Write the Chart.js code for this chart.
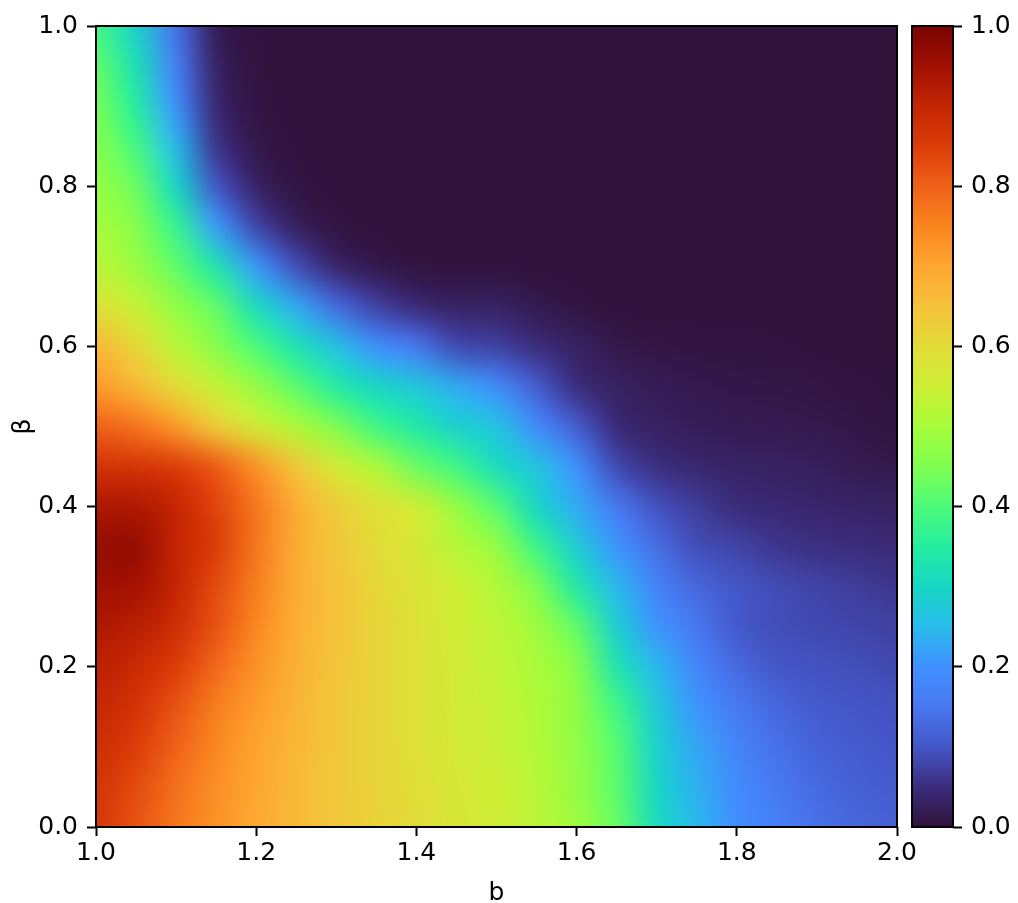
<!DOCTYPE html>
<html lang="en">
<head>
    <meta charset="UTF-8">
    <title>Heatmap b vs beta</title>
    <script src="https://cdn.jsdelivr.net/npm/chart.js"></script>
    <style>
        body { margin: 0; background: white; }
        #wrap { position: relative; width: 1018px; height: 903px; overflow: hidden; }
        canvas { position: absolute; top: 0; }
        #heatChart { left: 0; }
        #barChart { left: 900px; }
    </style>
</head>
<body>
    <div id="wrap">
        <canvas id="heatChart" width="1018" height="903"></canvas>
        <canvas id="barChart" width="118" height="903"></canvas>
    </div>

    <script>
        const bValues = [1.00, 1.05, 1.10, 1.15, 1.20, 1.25, 1.30, 1.35, 1.40, 1.45, 1.50, 1.55, 1.60, 1.65, 1.70, 1.75, 1.80, 1.85, 1.90, 1.95, 2.00];
        const betaValues = [1.00, 0.95, 0.90, 0.85, 0.80, 0.75, 0.70, 0.65, 0.60, 0.55, 0.50, 0.45, 0.40, 0.35, 0.30, 0.25, 0.20, 0.15, 0.10, 0.05, 0.00];

        // values, one list per beta, b = 1.00 ... 2.00
        const beta100 = [.385, .29, .14, .02, .002, 0, 0, 0, 0, 0, 0, 0, 0, 0, 0, 0, 0, 0, 0, 0, 0];
        const beta095 = [.42, .32, .165, .03, .004, 0, 0, 0, 0, 0, 0, 0, 0, 0, 0, 0, 0, 0, 0, 0, 0];
        const beta090 = [.44, .35, .20, .04, .006, 0, 0, 0, 0, 0, 0, 0, 0, 0, 0, 0, 0, 0, 0, 0, 0];
        const beta085 = [.46, .39, .245, .06, .012, .002, 0, 0, 0, 0, 0, 0, 0, 0, 0, 0, 0, 0, 0, 0, 0];
        const beta080 = [.48, .43, .30, .10, .03, .006, .001, 0, 0, 0, 0, 0, 0, 0, 0, 0, 0, 0, 0, 0, 0];
        const beta075 = [.50, .46, .37, .215, .08, .025, .005, .001, 0, 0, 0, 0, 0, 0, 0, 0, 0, 0, 0, 0, 0];
        const beta070 = [.53, .485, .42, .33, .21, .09, .035, .012, .004, .002, .002, .001, 0, 0, 0, 0, 0, 0, 0, 0, 0];
        const beta065 = [.59, .54, .475, .42, .31, .23, .13, .075, .045, .03, .03, .015, .005, .001, 0, 0, 0, 0, 0, 0, 0];
        const beta060 = [.67, .61, .525, .46, .40, .325, .26, .20, .15, .085, .075, .05, .03, .012, .008, .006, .005, .003, .001, 0, 0];
        const beta055 = [.72, .67, .60, .54, .48, .415, .345, .30, .27, .23, .19, .11, .05, .03, .02, .014, .011, .009, .007, .004, .002];
        const beta050 = [.80, .775, .72, .63, .56, .51, .45, .385, .34, .29, .265, .19, .11, .045, .03, .022, .018, .016, .014, .01, .004];
        const beta045 = [.87, .865, .85, .81, .73, .64, .56, .51, .43, .385, .31, .265, .20, .085, .052, .04, .033, .03, .025, .017, .013];
        const beta040 = [.93, .93, .90, .84, .77, .69, .63, .59, .555, .48, .41, .30, .23, .155, .095, .07, .048, .042, .038, .034, .03];
        const beta035 = [.96, .965, .90, .85, .77, .69, .64, .60, .57, .52, .48, .38, .28, .205, .135, .09, .078, .062, .054, .05, .047];
        const beta030 = [.95, .945, .90, .83, .76, .69, .65, .61, .58, .55, .515, .45, .34, .245, .175, .125, .10, .088, .078, .07, .062];
        const beta025 = [.93, .915, .88, .82, .745, .685, .65, .615, .585, .555, .53, .49, .42, .285, .205, .15, .105, .09, .085, .08, .075];
        const beta020 = [.91, .89, .85, .79, .73, .68, .645, .615, .585, .56, .535, .505, .46, .33, .245, .18, .13, .10, .095, .09, .085];
        const beta015 = [.895, .87, .82, .76, .715, .675, .64, .615, .585, .56, .54, .51, .47, .385, .275, .205, .155, .125, .107, .10, .095];
        const beta010 = [.88, .85, .80, .745, .705, .67, .64, .615, .59, .565, .545, .515, .475, .41, .29, .225, .175, .14, .118, .108, .10];
        const beta005 = [.87, .83, .78, .735, .70, .665, .64, .615, .595, .57, .55, .52, .48, .415, .30, .235, .19, .155, .13, .115, .108];
        const beta000 = [.86, .82, .77, .73, .695, .665, .64, .62, .60, .575, .555, .525, .49, .425, .31, .245, .195, .165, .14, .125, .115];
        const heatRows = [beta100, beta095, beta090, beta085, beta080, beta075, beta070, beta065, beta060, beta055, beta050,
            beta045, beta040, beta035, beta030, beta025, beta020, beta015, beta010, beta005, beta000];

        const axisTicks = [0.0, 0.2, 0.4, 0.6, 0.8, 1.0];
        const xTicks = [1.0, 1.2, 1.4, 1.6, 1.8, 2.0];

        // colours
        const cmapLevels = [0, .05, .1, .15, .2, .25, .3, .35, .4, .45, .5, .55, .6, .65, .7, .75, .8, .85, .9, .95, 1];
        const cmapColors = ['#30123b', '#3b2c7c', '#4456c7', '#4878f0', '#4090ff', '#28bceb', '#18d6c5', '#25eda0', '#4cfb7a', '#7ffe50',
            '#a6fc3a', '#cdee35', '#e2dc38', '#f5c23a', '#fea632', '#f9851f', '#f0611a', '#db3c08', '#c42503', '#a01002', '#7a0403'];

        const tickFont = { family: "'DejaVu Sans'", size: 25, lineHeight: 1 };

        function hexToRgb(hex) {
            return [1, 3, 5].map(i => parseInt(hex.slice(i, i + 2), 16));
        }

        function valueToRgb(v) {
            let i = 0;
            while (i < cmapLevels.length - 2 && v > cmapLevels[i + 1]) i++;
            const t = (v - cmapLevels[i]) / (cmapLevels[i + 1] - cmapLevels[i]);
            const a = hexToRgb(cmapColors[i]);
            const b = hexToRgb(cmapColors[i + 1]);
            return a.map((c, k) => Math.round(c + (b[k] - c) * t));
        }

        const cells = [];
        heatRows.forEach((row, r) => {
            row.forEach((v, c) => cells.push({ x: bValues[c], y: betaValues[r], v: v }));
        });

        // paints the cells as one smoothed image, placed from the point elements the scales positioned
        const heatPlugin = {
            id: 'heatImage',
            beforeDatasetsDraw(chart) {
                const nx = bValues.length, ny = betaValues.length;
                const pts = chart.getDatasetMeta(0).data;
                const off = document.createElement('canvas');
                off.width = nx;
                off.height = ny;
                const octx = off.getContext('2d');
                const img = octx.createImageData(nx, ny);
                cells.forEach((cell, i) => {
                    const rgb = valueToRgb(cell.v);
                    img.data[i * 4] = rgb[0];
                    img.data[i * 4 + 1] = rgb[1];
                    img.data[i * 4 + 2] = rgb[2];
                    img.data[i * 4 + 3] = 255;
                });
                octx.putImageData(img, 0, 0);

                const first = pts[0], last = pts[pts.length - 1];
                const dx = (last.x - first.x) / (nx - 1);
                const dy = (last.y - first.y) / (ny - 1);
                const area = chart.chartArea;
                const ctx = chart.ctx;
                ctx.save();
                ctx.beginPath();
                ctx.rect(area.left, area.top, area.right - area.left, area.bottom - area.top);
                ctx.clip();
                ctx.imageSmoothingEnabled = true;
                ctx.imageSmoothingQuality = 'high';
                ctx.drawImage(off, first.x - dx / 2, first.y - dy / 2, dx * nx, dy * ny);
                ctx.restore();
            }
        };

        const framePlugin = {
            id: 'frame',
            afterDraw(chart) {
                const a = chart.chartArea, ctx = chart.ctx;
                ctx.save();
                ctx.strokeStyle = 'black';
                ctx.lineWidth = 2;
                ctx.strokeRect(a.left, a.top, a.right - a.left, a.bottom - a.top);
                ctx.restore();
            }
        };

        function axisOptions(min, max, tickValues, labelPad) {
            return {
                type: 'linear',
                min: min,
                max: max,
                afterBuildTicks: s => { s.ticks = tickValues.map(v => ({ value: v })); },
                ticks: {
                    color: 'black',
                    font: tickFont,
                    maxRotation: 0,
                    autoSkip: false,
                    padding: labelPad,
                    callback: v => v.toFixed(1)
                },
                grid: { drawOnChartArea: false, drawTicks: true, tickLength: 9, tickWidth: 2, tickColor: 'black' },
                border: { display: false }
            };
        }

        new Chart(document.getElementById('heatChart'), {
            type: 'scatter',
            data: { datasets: [{ data: cells, pointRadius: 0, pointHoverRadius: 0 }] },
            options: {
                responsive: false,
                animation: false,
                layout: { padding: { left: 0, right: 121, top: 26, bottom: 0 } },
                plugins: { legend: { display: false }, tooltip: { enabled: false } },
                scales: {
                    x: Object.assign(axisOptions(1, 2, xTicks, 5), {
                        afterFit: s => { s.height = 76; },
                        title: { display: true, text: 'b', color: 'black', font: tickFont, padding: { top: -3, bottom: -3 } }
                    }),
                    y: Object.assign(axisOptions(0, 1, axisTicks, 9), {
                        afterFit: s => { s.width = 96; },
                        title: { display: true, text: 'β', color: 'black', font: tickFont, padding: { top: 11, bottom: 11 } }
                    })
                }
            },
            plugins: [heatPlugin, framePlugin]
        });

        new Chart(document.getElementById('barChart'), {
            type: 'bar',
            data: {
                labels: [''],
                datasets: [{
                    data: [[0, 1]],
                    barPercentage: 1,
                    categoryPercentage: 1,
                    backgroundColor(context) {
                        const chart = context.chart;
                        if (!chart.chartArea) return cmapColors[0];
                        const y = chart.scales.y;
                        const grad = chart.ctx.createLinearGradient(0, y.getPixelForValue(0), 0, y.getPixelForValue(1));
                        cmapLevels.forEach((l, i) => grad.addColorStop(l, cmapColors[i]));
                        return grad;
                    }
                }]
            },
            options: {
                responsive: false,
                animation: false,
                layout: { padding: { left: 12, right: 0, top: 26, bottom: 76 } },
                plugins: { legend: { display: false }, tooltip: { enabled: false } },
                scales: {
                    x: { display: false },
                    y: Object.assign(axisOptions(0, 1, axisTicks, 9), {
                        position: 'right',
                        afterFit: s => { s.width = 65; }
                    })
                }
            },
            plugins: [framePlugin]
        });
    </script>
</body>
</html>
